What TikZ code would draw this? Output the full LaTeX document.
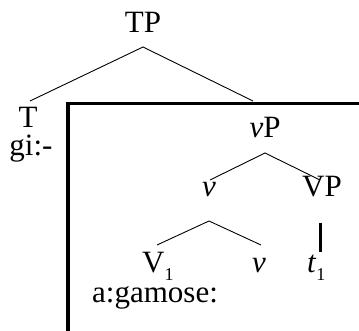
\documentclass[tikz,border=0pt]{standalone}
\usepackage{fontspec}
\setmainfont{Liberation Serif}
\begin{document}
\begin{tikzpicture}[x=1pt,y=1pt,
  lab/.style={anchor=base, inner sep=0pt, font=\fontsize{31}{37}\selectfont},
  branch/.style={line width=0.9pt},
  heavy/.style={line width=3.3pt},
  tracestem/.style={line width=3pt}]
\newcommand{\subone}{\raisebox{-8pt}[0pt][0pt]{\fontsize{18}{18}\selectfont 1}}
\useasboundingbox (0,0) rectangle (359,-331);
% nodes
\node[lab] (TP) at (143,-33) {TP};
\node[lab] (T) at (28,-128) {T};
\node[lab] (Tf) at (31,-156) {gi:-};
\node[lab] (vP) at (265,-138) {\textit{v}P};
\node[lab] (v) at (209,-197) {\textit{v}};
\node[lab] (VP) at (322,-197) {VP};
\node[lab, anchor=base west] (V1) at (142,-273) {V\subone};
\node[lab] (vlow) at (259,-273) {\textit{v}};
\node[lab, anchor=base west] (t1) at (307,-273) {\textit{t}\subone};
\node[lab, anchor=base west] (Vf) at (92,-303) {a:gamose:};
% branch points
\coordinate (TPs) at (143,-47);
\coordinate (Tn) at (30,-101);
\coordinate (boxn) at (253,-101);
\coordinate (vPs) at (265,-153);
\coordinate (vn) at (210,-180);
\coordinate (VPn) at (320,-180);
\coordinate (vs) at (209,-221);
\coordinate (V1n) at (157,-245);
\coordinate (vlown) at (261,-245);
\coordinate (VPs) at (320,-223);
\coordinate (t1n) at (320,-252);
% connectors
\draw[branch] (Tn) -- (TPs) -- (boxn);
\draw[branch] (vn) -- (vPs) -- (VPn);
\draw[branch] (V1n) -- (vs) -- (vlown);
\draw[tracestem] (VPs) -- (t1n);
% box
\draw[heavy] (359,-103.5) -- (68,-103.5) -- (68,-331);
\end{tikzpicture}
\end{document}
